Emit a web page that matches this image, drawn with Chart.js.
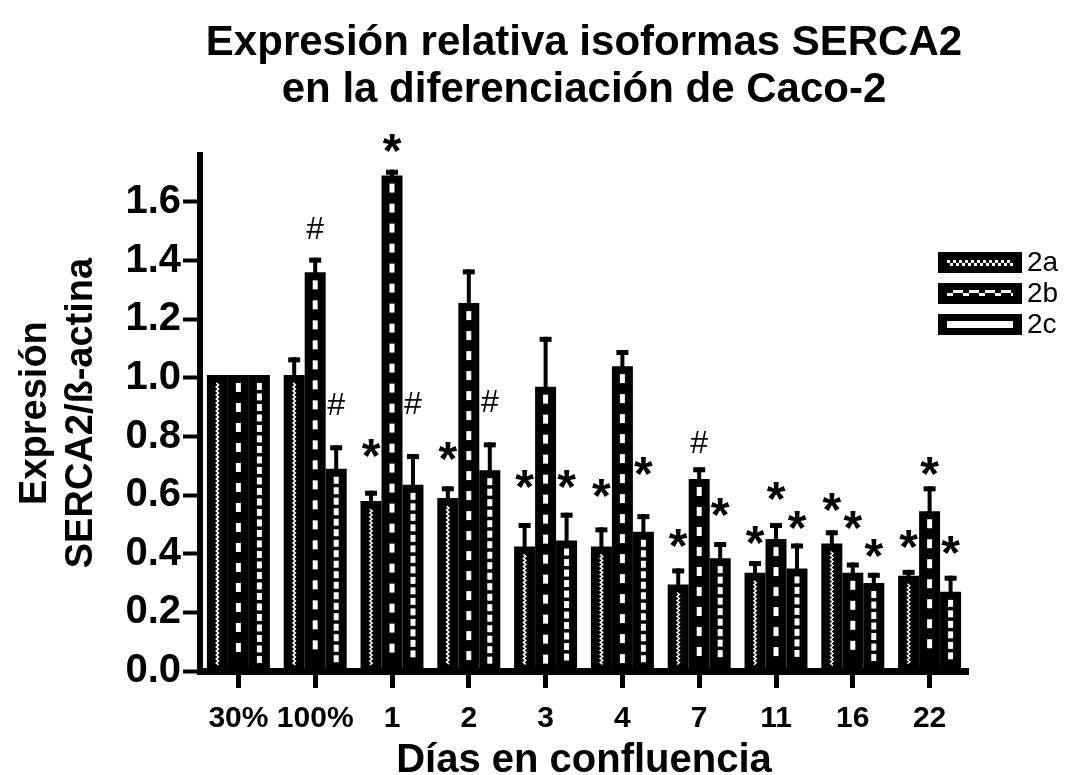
<!DOCTYPE html>
<html><head><meta charset="utf-8">
<script src="https://cdn.jsdelivr.net/npm/chart.js@4"></script>
<style>html,body{margin:0;padding:0;background:#fff;}#wrap{width:1068px;height:775px;}</style>
</head><body><div id="wrap"><canvas id="c" width="1068" height="775"></canvas></div>
<script>
const categories = ['30%', '100%', '1', '2', '3', '4', '7', '11', '16', '22'];
const seriesNames = ['2a', '2b', '2c'];
const values2a = [1.01, 1.01, 0.58, 0.59, 0.425, 0.425, 0.295, 0.335, 0.435, 0.325];
const values2b = [1.01, 1.36, 1.69, 1.255, 0.97, 1.04, 0.655, 0.45, 0.335, 0.545];
const values2c = [1.01, 0.69, 0.635, 0.685, 0.445, 0.475, 0.385, 0.35, 0.30, 0.27];
const errTop2a = [null, 1.07, 0.615, 0.63, 0.505, 0.49, 0.35, 0.375, 0.48, 0.345];
const errTop2b = [null, 1.41, 1.71, 1.37, 1.14, 1.095, 0.695, 0.505, 0.37, 0.63];
const errTop2c = [null, 0.77, 0.74, 0.78, 0.54, 0.535, 0.44, 0.435, 0.335, 0.325];
const marks2a = ['', '', '*', '*', '*', '*', '*', '*', '*', '*'];
const marks2b = ['', '#', '*', '', '', '', '#', '*', '*', '*'];
const marks2c = ['', '#', '#', '#', '*', '*', '*', '*', '*', '*'];
const markPos2a = [null, null, 0.76, 0.75, 0.655, 0.625, 0.455, 0.465, 0.575, 0.45];
const markPos2b = [null, 1.51, 1.80, null, null, null, 0.78, 0.615, 0.515, 0.70];
const markPos2c = [null, 0.91, 0.915, 0.92, 0.655, 0.70, 0.56, 0.515, 0.42, 0.43];
const yTicks = [0, 0.2, 0.4, 0.6, 0.8, 1.0, 1.2, 1.4, 1.6];

const F = '"Liberation Sans", Arial, Helvetica, sans-serif';
const errTops = [errTop2a, errTop2b, errTop2c];
const marks = [marks2a, marks2b, marks2c];
const markPos = [markPos2a, markPos2b, markPos2c];

const barDecor = {
  id: 'barDecor',
  afterDatasetsDraw(chart) {
    const ctx = chart.ctx;
    const ys = chart.scales.y;
    chart.data.datasets.forEach((ds, di) => {
      const meta = chart.getDatasetMeta(di);
      meta.data.forEach((bar, j) => {
        const p = bar.getProps(['x', 'y', 'base', 'width'], true);
        const x = p.x, top = p.y + 8, bot = p.base - 5;
        ctx.save();
        ctx.fillStyle = '#fff';
        ctx.strokeStyle = '#fff';
        if (di === 0) {
          ctx.lineWidth = 1.5;
          ctx.beginPath();
          let k = 0;
          for (let yy = top; yy <= bot; yy += 2) {
            const xx = x + (k % 2 ? 1.2 : -1.2);
            if (k === 0) ctx.moveTo(xx, yy); else ctx.lineTo(xx, yy);
            k++;
          }
          ctx.stroke();
        } else if (di === 1) {
          for (let yy = top; yy + 9 <= bot; yy += 20) ctx.fillRect(x - 2.5, yy, 5, 9);
        } else {
          for (let yy = top; yy + 7 <= bot; yy += 10.5) ctx.fillRect(x - 2.5, yy, 5, 7);
        }
        ctx.restore();
        const e = errTops[di][j];
        if (e !== null && e !== undefined) {
          const ey = ys.getPixelForValue(e);
          ctx.save();
          ctx.fillStyle = '#000';
          ctx.fillRect(x - 2, ey, 4, p.y - ey + 1);
          ctx.fillRect(x - 6, ey, 12, 5);
          ctx.restore();
        }
      });
    });
  },
  afterDraw(chart) {
    const ctx = chart.ctx;
    const ys = chart.scales.y;
    chart.data.datasets.forEach((ds, di) => {
      const meta = chart.getDatasetMeta(di);
      meta.data.forEach((bar, j) => {
        const m = marks[di][j];
        if (!m) return;
        const cy = ys.getPixelForValue(markPos[di][j]);
        ctx.save();
        ctx.fillStyle = '#000';
        ctx.font = (m === '*' ? 'bold 48px ' : '32px ') + F;
        ctx.textAlign = 'center';
        ctx.textBaseline = 'alphabetic';
        const mt = ctx.measureText(m);
        const off = (mt.actualBoundingBoxAscent - mt.actualBoundingBoxDescent) / 2;
        ctx.fillText(m, bar.x, cy + off);
        ctx.restore();
      });
    });
    const x0 = 938, w = 84, h = 21;
    const tops = [252, 283, 314];
    seriesNames.forEach((name, i) => {
      const t = tops[i];
      ctx.save();
      ctx.fillStyle = '#000';
      ctx.fillRect(x0, t, w, h);
      ctx.fillStyle = '#fff';
      const ix = x0 + 9, iw = w - 18;
      if (i === 0) {
        for (let c = 0; c * 3 < iw; c++) {
          for (let r = 0; r < 2; r++) {
            if ((c + r) % 2 === 0) ctx.fillRect(ix + c * 3, t + 8 + r * 3, 3, 3);
          }
        }
      } else if (i === 1) {
        let xx = ix, k = 0;
        while (xx < ix + iw) {
          const seg = k % 2 === 0 ? 6 : 10;
          const up = k % 2 === 1;
          ctx.fillRect(xx, up ? t + 7 : t + 10, Math.min(seg, ix + iw - xx), 3);
          xx += seg; k++;
        }
      } else {
        ctx.fillRect(ix, t + 7, iw, 7);
      }
      ctx.fillStyle = '#000';
      ctx.font = '28px ' + F;
      ctx.textBaseline = 'middle';
      ctx.textAlign = 'left';
      ctx.fillText(name, x0 + w + 5, t + h / 2 + 1);
      ctx.restore();
    });
  }
};

new Chart(document.getElementById('c'), {
  type: 'bar',
  data: {
    labels: categories,
    datasets: [
      { label: seriesNames[0], data: values2a, backgroundColor: '#000', borderWidth: 0 },
      { label: seriesNames[1], data: values2b, backgroundColor: '#000', borderWidth: 0 },
      { label: seriesNames[2], data: values2c, backgroundColor: '#000', borderWidth: 0 }
    ]
  },
  options: {
    responsive: false,
    animation: false,
    devicePixelRatio: 1,
    categoryPercentage: 0.82,
    barPercentage: 1.0,
    layout: { padding: { left: 0, right: 100, top: 0, bottom: 0 } },
    plugins: {
      legend: { display: false },
      tooltip: { enabled: false },
      title: {
        display: true,
        fullSize: false,
        text: ['Expresión relativa isoformas SERCA2', 'en la diferenciación de Caco-2'],
        color: '#000',
        font: { family: F, size: 42, weight: 'bold', lineHeight: 1.12 },
        padding: { top: 20, bottom: 41 }
      }
    },
    scales: {
      x: {
        offset: true,
        grid: { display: true, offset: false, drawOnChartArea: false, drawTicks: true, tickLength: 17, tickWidth: 5, tickColor: '#000' },
        border: { display: true, width: 7, color: '#000' },
        ticks: { color: '#000', font: { family: F, size: 30, weight: 'bold' }, padding: 13, maxRotation: 0, autoSkip: false },
        title: { display: true, text: 'Días en confluencia', color: '#000', font: { family: F, size: 40, weight: 'bold', lineHeight: 1 }, padding: { top: 0, bottom: -6 } },
        afterFit(s) { s.height = 104; }
      },
      y: {
        min: 0,
        max: 1.76,
        afterBuildTicks(s) { s.ticks = yTicks.map(v => ({ value: v })); },
        grid: { display: true, drawOnChartArea: false, drawTicks: true, tickLength: 17, tickWidth: 4, tickColor: '#000' },
        border: { display: true, width: 6, color: '#000' },
        ticks: { color: '#000', font: { family: F, size: 40, weight: 'bold' }, padding: 2, callback: v => Number(v).toFixed(1) },
        title: { display: true, text: ['Expresión', 'SERCA2/ß-actina'], color: '#000', font: { family: F, size: 38, weight: 'bold', lineHeight: 1.22 }, padding: { top: 12, bottom: 0 } },
        afterFit(s) { s.width = 200; }
      }
    }
  },
  plugins: [barDecor]
});
</script>
</body></html>
